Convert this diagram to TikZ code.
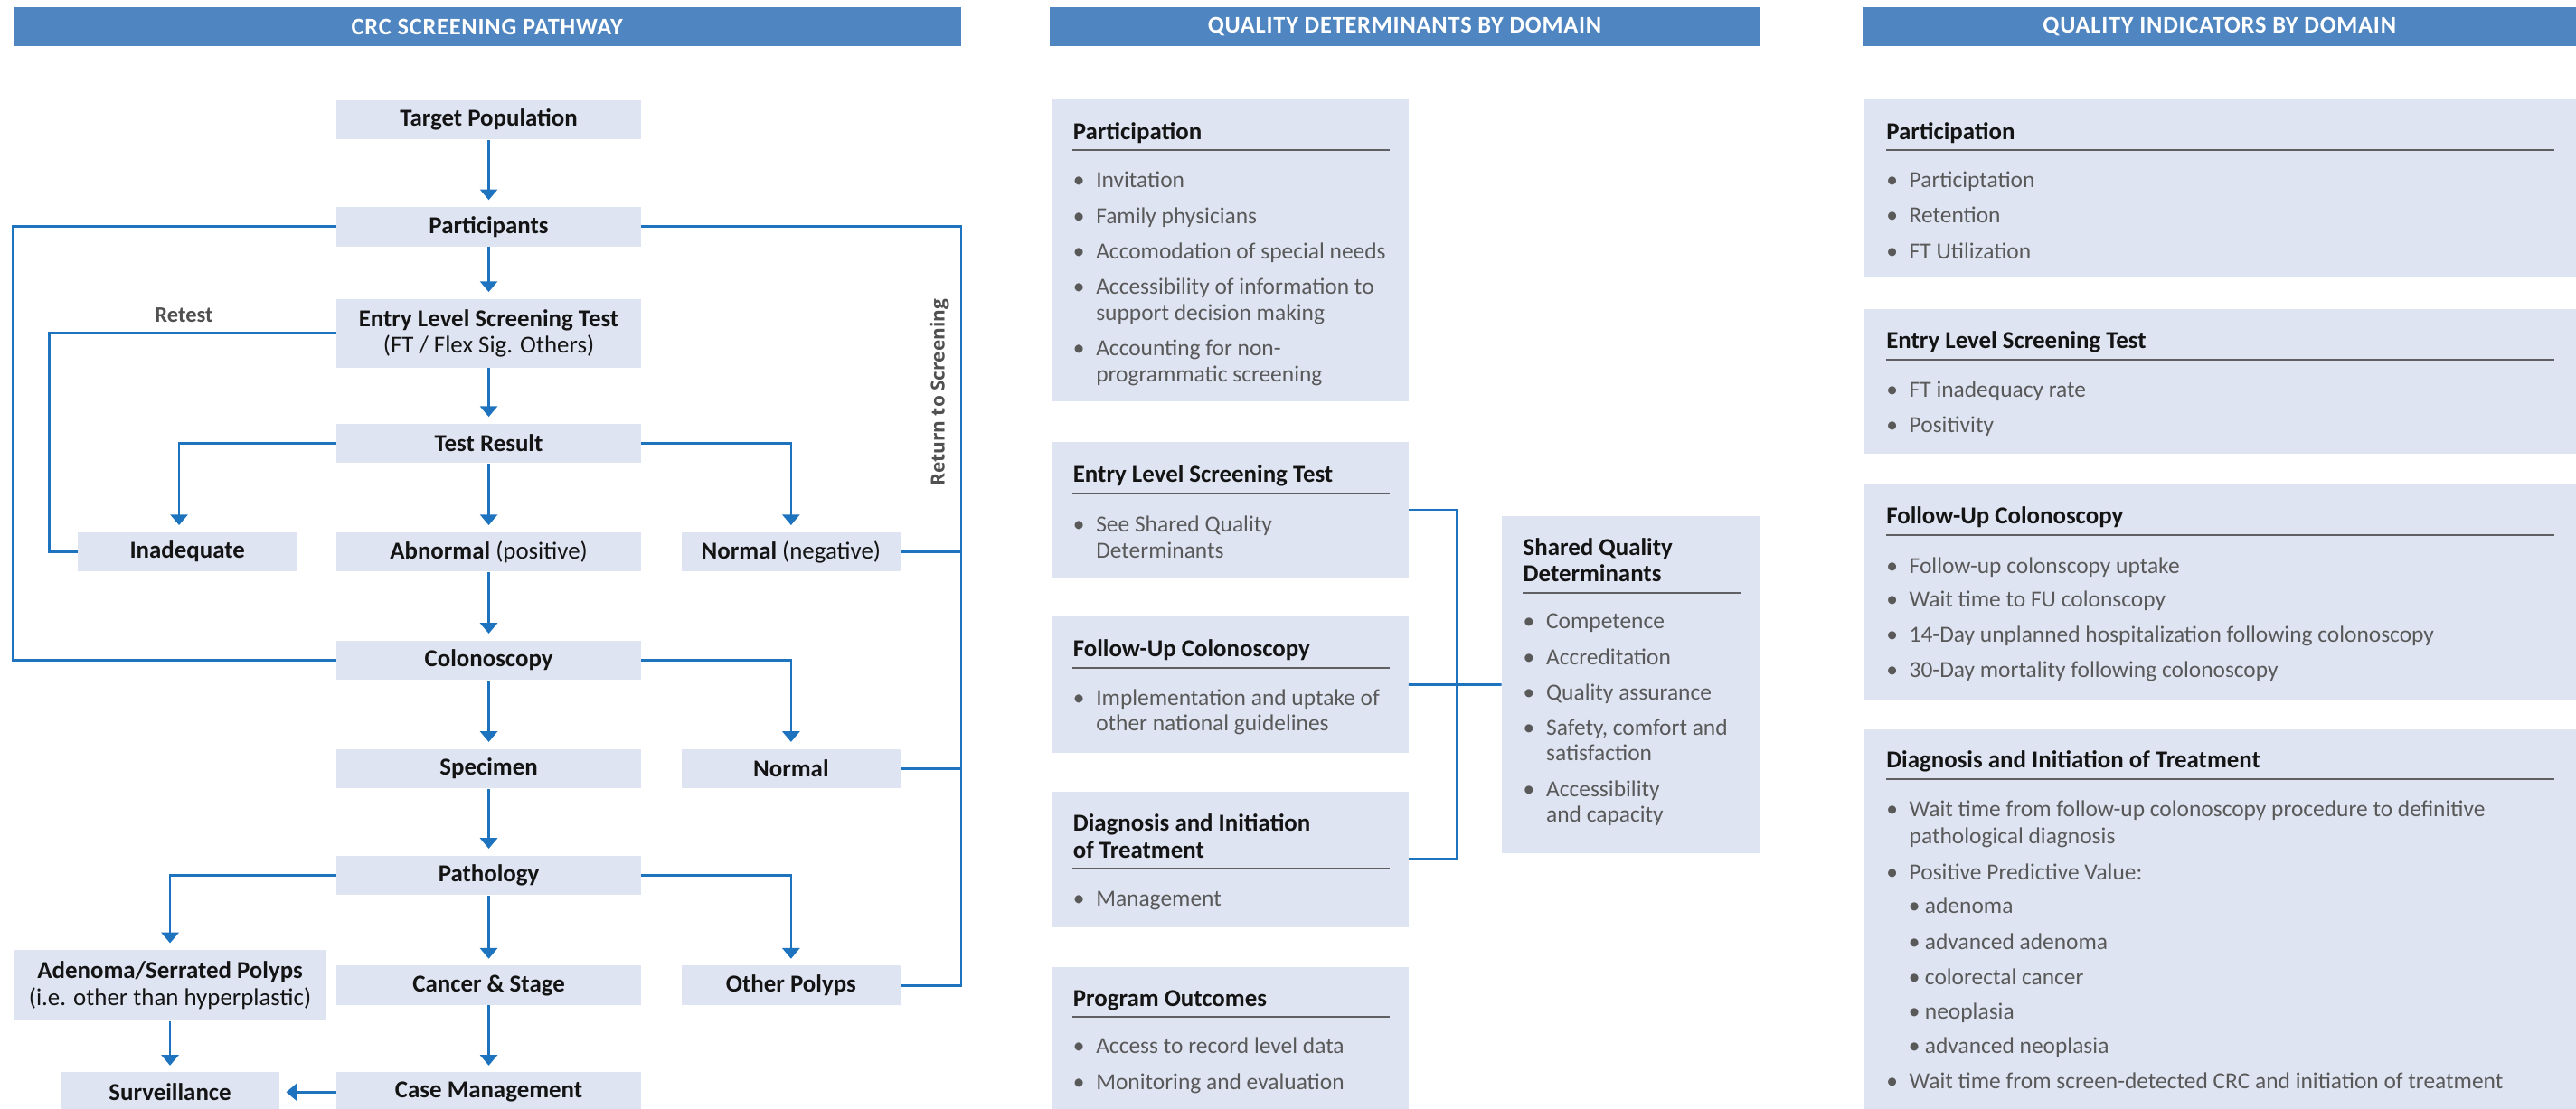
\documentclass[tikz,border=0pt]{standalone}
\usepackage{fontspec}
\setmainfont{Carlito}
\newfontfamily\hdrfont{Carlito}[LetterSpace=3]
\newfontfamily\rtsfont{Open Sans}
\usetikzlibrary{positioning,arrows.meta}

\definecolor{hdrblue}{RGB}{79,134,193}
\definecolor{boxfill}{RGB}{223,228,242}
\definecolor{linkblue}{RGB}{30,115,190}
\definecolor{textgray}{RGB}{89,89,89}
\definecolor{notegray}{RGB}{80,80,80}
\definecolor{rulegray}{RGB}{95,95,100}
\definecolor{inkblack}{RGB}{20,20,20}

\newcommand{\flowfont}{\fontsize{14.8}{17}\selectfont\bfseries}
\newcommand{\itemfont}{\fontsize{14}{16}\selectfont}
\newcommand{\titlefont}{\fontsize{14.8}{17}\selectfont\bfseries}
\newcommand{\bul}{\makebox[14pt][l]{\textbullet}}
\newcommand{\subbul}{\makebox[10pt][l]{\textbullet}}

\tikzstyle{flowbox} = [rectangle, fill=boxfill, minimum width=185pt, minimum height=24pt, inner sep=0pt, align=center, font=\flowfont, text=inkblack]
\tikzstyle{smallbox} = [flowbox, minimum width=133pt]
\tikzstyle{header} = [rectangle, fill=hdrblue, minimum height=23.5pt, inner sep=0pt, text=white, font=\hdrfont\fontsize{14.5}{17}\selectfont\bfseries]
\tikzstyle{panel} = [rectangle, fill=boxfill, anchor=north west, inner sep=0pt]
\tikzstyle{paneltitle} = [anchor=base west, inner sep=0pt, font=\titlefont, text=inkblack]
\tikzstyle{qitem} = [anchor=base west, inner sep=0pt, font=\itemfont, text=textgray]
\tikzstyle{qrule} = [rulegray, line width=1pt]
\tikzstyle{arrow} = [linkblue, line width=1.5pt, -{Triangle[width=10.5pt,length=6.5pt]}, shorten >=4pt]
\tikzstyle{link} = [linkblue, line width=1.5pt]
\tikzstyle{note} = [inner sep=0pt, text=notegray]

\begin{document}
\begin{tikzpicture}[x=1pt, y=-1pt, on grid, node distance=66pt]
\useasboundingbox (0,0) rectangle (1568,675);

% column headers
\node (hdpath) [header, minimum width=577pt] at (296.5,16.25) {CRC SCREENING PATHWAY};
\node (hddet) [header, minimum width=432pt] at (855,16.25) {QUALITY DETERMINANTS BY DOMAIN};
\node (hdind) [header, minimum width=434pt] at (1351,16.25) {QUALITY INDICATORS BY DOMAIN};

% screening pathway
\node (target) [flowbox] at (297.5,73) {Target Population};
\node (part) [flowbox, below=65pt of target] {Participants};
\node (entry) [flowbox, minimum height=42pt, below=65pt of part] {Entry Level Screening Test\\[-1pt]{\mdseries (FT / Flex Sig. Others)}};
\node (test) [flowbox, below=67pt of entry] {Test Result};
\node (abn) [flowbox, below=of test] {Abnormal {\mdseries (positive)}};
\node (inad) [smallbox, left=183.5pt of abn] {Inadequate};
\node (normneg) [smallbox, right=184pt of abn] {Normal {\mdseries (negative)}};
\node (colon) [flowbox, below=of abn] {Colonoscopy};
\node (spec) [flowbox, below=of colon] {Specimen};
\node (norm) [smallbox, right=184pt of spec] {Normal};
\node (path) [flowbox, below=65pt of spec] {Pathology};
\node (cancer) [flowbox, below=67pt of path] {Cancer \& Stage};
\node (adeno) [flowbox, minimum width=189pt, minimum height=43pt, left=194pt of cancer] {Adenoma/Serrated Polyps\\[-1pt]{\mdseries (i.e. other than hyperplastic)}};
\node (other) [smallbox, right=184pt of cancer] {Other Polyps};
\node (case) [flowbox, below=65pt of cancer] {Case Management};
\node (surv) [smallbox, left=194pt of case] {Surveillance};

\draw [arrow] (target) -- (part);
\draw [arrow] (part) -- (entry);
\draw [arrow] (entry) -- (test);
\draw [arrow] (test) -- (abn);
\draw [arrow] (test.west) -| ([xshift=-5pt]inad.north);
\draw [arrow] (test.east) -| (normneg.north);
\draw [arrow] (abn) -- (colon);
\draw [arrow] (colon) -- (spec);
\draw [arrow] (colon.east) -| (norm.north);
\draw [arrow] (spec) -- (path);
\draw [arrow] (path) -- (cancer);
\draw [arrow] (path.west) -| (adeno.north);
\draw [arrow] (path.east) -| (other.north);
\draw [arrow] (cancer) -- (case);
\draw [arrow] (adeno) -- (surv);
\draw [arrow] (case) -- (surv);

% loops back
\coordinate (leftrail) at (8,0);
\coordinate (retestrail) at (30,0);
\coordinate (rightrail) at (585,0);
\draw [link] (part.west) -- (part.west -| leftrail) -- (colon.west -| leftrail) -- (colon.west);
\draw [link] (entry.west) -- (entry.west -| retestrail) -- (inad.west -| retestrail) -- (inad.west);
\draw [link] (part.east) -- (part.east -| rightrail) -- (other.east -| rightrail) -- (other.east);
\draw [link] (normneg.east) -- (normneg.east -| rightrail);
\draw [link] (norm.east) -- (norm.east -| rightrail);
\node (retest) [note, font=\fontsize{13.5}{16}\selectfont\bfseries] at (112,192) {Retest};
\node (backlabel) [note, rotate=90, font=\rtsfont\fontsize{11.5}{14}\selectfont\bfseries] at (572,239) {Return to Screening};

% quality determinants
\node (qdpart) [panel, minimum width=217pt, minimum height=184pt] at (640,60) {};
\node (qdparthd) [paneltitle] at (653,85) {Participation};
\draw [qrule] (653,91.4) -- (846,91.4);
\foreach \yy/\txt [count=\i] in {114/Invitation, 136/Family physicians, 157.5/Accomodation of special needs, 179.3/Accessibility of information to, 216.5/Accounting for non-}
  \node (qdpartb\i) [qitem] at (653,\yy) {\bul\txt};
\node (qdpartc1) [qitem] at (667,195.3) {support decision making};
\node (qdpartc2) [qitem] at (667,232.5) {programmatic screening};

\node (qdentry) [panel, minimum width=217pt, minimum height=82.5pt] at (640,269) {};
\node (qdentryhd) [paneltitle] at (653,293.5) {Entry Level Screening Test};
\draw [qrule] (653,300.3) -- (846,300.3);
\node (qdentryb1) [qitem] at (653,323.8) {\bul See Shared Quality};
\node (qdentryc1) [qitem] at (667,339.6) {Determinants};

\node (qdfu) [panel, minimum width=217pt, minimum height=83pt] at (640,375.2) {};
\node (qdfuhd) [paneltitle] at (653,400.1) {Follow-Up Colonoscopy};
\draw [qrule] (653,406.8) -- (846,406.8);
\node (qdfub1) [qitem] at (653,429.5) {\bul Implementation and uptake of};
\node (qdfuc1) [qitem] at (667,444.9) {other national guidelines};

\node (qddiag) [panel, minimum width=217pt, minimum height=82.6pt] at (640,481.8) {};
\node (qddiaghd) [paneltitle] at (653,506) {Diagnosis and Initiation};
\node (qddiaghd2) [paneltitle] at (653,522.5) {of Treatment};
\draw [qrule] (653,529) -- (846,529);
\node (qddiagb1) [qitem] at (653,551.7) {\bul Management};

\node (qdout) [panel, minimum width=217pt, minimum height=90pt] at (640,588.6) {};
\node (qdouthd) [paneltitle] at (653,612.6) {Program Outcomes};
\draw [qrule] (653,619.2) -- (846,619.2);
\node (qdoutb1) [qitem] at (653,641.7) {\bul Access to record level data};
\node (qdoutb2) [qitem] at (653,663.5) {\bul Monitoring and evaluation};

\node (qdshared) [panel, minimum width=157pt, minimum height=205.5pt] at (914,314) {};
\node (qdsharedhd) [paneltitle] at (927,338) {Shared Quality};
\node (qdsharedhd2) [paneltitle] at (927,354) {Determinants};
\draw [qrule] (927,361) -- (1059.5,361);
\foreach \yy/\txt [count=\i] in {383/Competence, 405/Accreditation, 426.3/Quality assurance, 447.8/Safety{,} comfort and, 485/Accessibility}
  \node (qdsharedb\i) [qitem] at (927,\yy) {\bul\txt};
\node (qdsharedc1) [qitem] at (941,463.1) {satisfaction};
\node (qdsharedc2) [qitem] at (941,500.5) {and capacity};

\coordinate (qdbus) at (887,0);
\draw [link] (qdentry.east) -- (qdentry.east -| qdbus) -- (qddiag.east -| qdbus) -- (qddiag.east);
\draw [link] (qdfu.east) -- (qdshared.west);

% quality indicators
\node (qipart) [panel, minimum width=434pt, minimum height=108pt] at (1134,60) {};
\node (qiparthd) [paneltitle] at (1148,85) {Participation};
\draw [qrule] (1148,91.3) -- (1555,91.3);
\foreach \yy/\txt [count=\i] in {114/Participtation, 135.8/Retention, 157.5/FT Utilization}
  \node (qipartb\i) [qitem] at (1148,\yy) {\bul\txt};

\node (qientry) [panel, minimum width=434pt, minimum height=88pt] at (1134,188) {};
\node (qientryhd) [paneltitle] at (1148,212.2) {Entry Level Screening Test};
\draw [qrule] (1148,219) -- (1555,219);
\foreach \yy/\txt [count=\i] in {241.9/FT inadequacy rate, 263.6/Positivity}
  \node (qientryb\i) [qitem] at (1148,\yy) {\bul\txt};

\node (qifu) [panel, minimum width=434pt, minimum height=131.5pt] at (1134,294.3) {};
\node (qifuhd) [paneltitle] at (1148,319) {Follow-Up Colonoscopy};
\draw [qrule] (1148,325.8) -- (1555,325.8);
\foreach \yy/\txt [count=\i] in {349/Follow-up colonscopy uptake, 369.8/Wait time to FU colonscopy, 391.3/14-Day unplanned hospitalization following colonoscopy, 412.6/30-Day mortality following colonoscopy}
  \node (qifub\i) [qitem] at (1148,\yy) {\bul\txt};

\node (qidiag) [panel, minimum width=434pt, minimum height=235pt] at (1134,443.8) {};
\node (qidiaghd) [paneltitle] at (1148,467.5) {Diagnosis and Initiation of Treatment};
\draw [qrule] (1148,474.6) -- (1555,474.6);
\node (qidiagb1) [qitem] at (1148,497.2) {\bul Wait time from follow-up colonoscopy procedure to definitive};
\node (qidiagc1) [qitem] at (1162,513.7) {pathological diagnosis};
\node (qidiagb2) [qitem] at (1148,535.5) {\bul Positive Predictive Value:};
\foreach \yy/\txt [count=\i] in {556.4/adenoma, 578/advanced adenoma, 599.4/colorectal cancer, 620.6/neoplasia, 641.7/advanced neoplasia}
  \node (qidiags\i) [qitem] at (1161.5,\yy) {\subbul\txt};
\node (qidiagb3) [qitem] at (1148,663) {\bul Wait time from screen-detected CRC and initiation of treatment};
\end{tikzpicture}
\end{document}
